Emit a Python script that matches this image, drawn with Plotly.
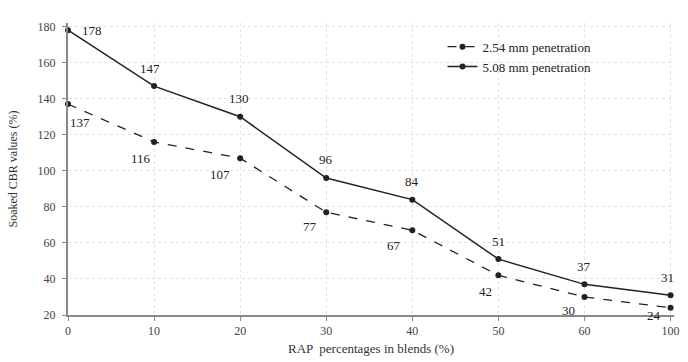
import plotly.graph_objects as go

categories = ["0", "10", "20", "30", "40", "50", "60", "100"]
pen_254 = [137, 116, 107, 77, 67, 42, 30, 24]
pen_508 = [178, 147, 130, 96, 84, 51, 37, 31]
y_ticks = [20, 40, 60, 80, 100, 120, 140, 160, 180]

# label offsets (pixels) for data labels
off_254 = [(12, 18), (-13, 17), (-20, 16), (-16, 14), (-18, 15), (-13, 16), (-16, 14), (-17, 8)]
off_508 = [(24, 0), (-4, -18), (-1, -18), (0, -19), (0, -18), (0, -18), (0, -18), (-3, -18)]

FONT = "Liberation Serif"
ink = "#222222"

fig = go.Figure()
fig.add_trace(go.Scatter(
    x=categories, y=pen_254, mode="lines+markers", name="2.54 mm penetration",
    line=dict(color=ink, width=1.3, dash="dash"),
    marker=dict(color=ink, size=6), cliponaxis=False))
fig.add_trace(go.Scatter(
    x=categories, y=pen_508, mode="lines+markers", name="5.08 mm penetration",
    line=dict(color=ink, width=1.5),
    marker=dict(color=ink, size=6), cliponaxis=False))

for i, c in enumerate(categories):
    fig.add_annotation(x=i, y=pen_254[i], text=str(pen_254[i]), showarrow=False,
                       xshift=off_254[i][0], yshift=-off_254[i][1],
                       font=dict(family=FONT, size=13, color=ink))
    fig.add_annotation(x=i, y=pen_508[i], text=str(pen_508[i]), showarrow=False,
                       xshift=off_508[i][0], yshift=-off_508[i][1],
                       font=dict(family=FONT, size=13, color=ink))

fig.update_layout(
    width=688, height=362,
    margin=dict(l=68, r=8, t=23, b=45),
    paper_bgcolor="white", plot_bgcolor="white",
    font=dict(family=FONT, size=12, color="#444"),
    showlegend=True,
    legend=dict(x=0.618, y=0.97, xanchor="left", yanchor="top",
                bgcolor="rgba(0,0,0,0)", font=dict(family=FONT, size=13, color=ink),
                tracegroupgap=0, itemwidth=30),
    xaxis=dict(type="category", range=[0, 7.04],
               showline=True, linecolor="#888", linewidth=2,
               ticks="outside", ticklen=4, tickcolor="#888",
               showgrid=True, gridcolor="#e2e2e2", griddash="dot",
               zeroline=False,
               title=dict(text="RAP  percentages in blends (%)", standoff=6,
                          font=dict(family=FONT, size=13, color="#333")),
               tickfont=dict(family=FONT, size=12, color="#444")),
    yaxis=dict(range=[20, 182], tickvals=y_ticks,
               showline=True, linecolor="#888", linewidth=2,
               ticks="outside", ticklen=4, tickcolor="#888",
               ticklabelstandoff=4,
               showgrid=True, gridcolor="#e2e2e2", griddash="dot",
               zeroline=False,
               title=dict(text="Soaked CBR values (%)", standoff=17,
                          font=dict(family=FONT, size=12, color="#333")),
               tickfont=dict(family=FONT, size=12, color="#444")),
)

fig.write_html("out.html", config={"displayModeBar": False},
               post_script="document.body.style.margin='0';")
